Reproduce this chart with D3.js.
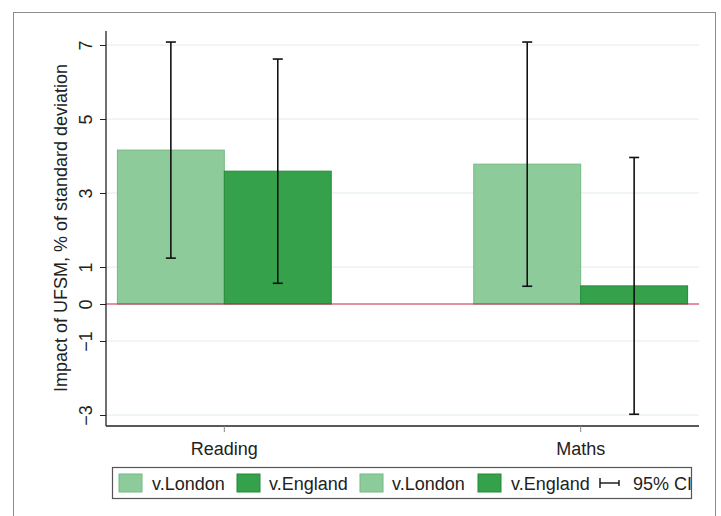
<!DOCTYPE html>
<html>
<head>
<meta charset="utf-8">
<script src="https://cdn.jsdelivr.net/npm/d3@7"></script>
<style>
  html, body { margin: 0; padding: 0; background: #fff; }
  svg { display: block; font-family: "Liberation Sans", Arial, sans-serif; }
</style>
</head>
<body>
<svg id="chart" width="721" height="516"></svg>
<script>
// Outcomes on the x axis
const categories = ["Reading", "Maths"];
// Comparison groups (one bar per group within each outcome)
const groups = ["v.London", "v.England"];
// Estimated effect, % of a standard deviation
const estLondon = [4.16, 3.78];
const estEngland = [3.59, 0.49];
// 95% confidence interval bounds
const lowLondon = [1.24, 0.48];
const highLondon = [7.08, 7.08];
const lowEngland = [0.56, -2.98];
const highEngland = [6.62, 3.96];
// Y tick values
const yTicks = [7, 5, 3, 1, 0, -1, -3];
// Legend entries
const legendLabels = ["v.London", "v.England", "v.London", "v.England", "95% CI"];

const colors = { "v.London": "#8dcb9b", "v.England": "#35a24b" };
const strokes = { "v.London": "#74ba84", "v.England": "#238a39" };

const rows = [];
categories.forEach((c, i) => {
  rows.push({ cat: c, grp: "v.London", v: estLondon[i], lo: lowLondon[i], hi: highLondon[i] });
  rows.push({ cat: c, grp: "v.England", v: estEngland[i], lo: lowEngland[i], hi: highEngland[i] });
});

const svg = d3.select("#chart");

// outer frame
svg.append("rect").attr("x", 13.5).attr("y", 12.5).attr("width", 702).attr("height", 520)
  .attr("fill", "none").attr("stroke", "#8c8c8c").attr("stroke-width", 1);

const plotLeft = 106, plotRight = 699, plotTop = 31, plotBottom = 426;

const y = d3.scaleLinear().domain([-3, 7]).range([415, 45]);
const x0 = d3.scaleBand().domain(categories).range([plotLeft, plotRight]).paddingInner(0.4).paddingOuter(0.032);
const x1 = d3.scaleBand().domain(groups).range([0, x0.bandwidth()]);

// gridlines
svg.append("g").selectAll("line").data(yTicks.filter(t => t !== 0)).join("line")
  .attr("x1", plotLeft).attr("x2", plotRight)
  .attr("y1", d => y(d)).attr("y2", d => y(d))
  .attr("stroke", "#e1eaea").attr("stroke-width", 1);

// bars
svg.append("g").selectAll("rect").data(rows).join("rect")
  .attr("x", d => x0(d.cat) + x1(d.grp))
  .attr("width", x1.bandwidth())
  .attr("y", d => y(Math.max(0, d.v)))
  .attr("height", d => Math.abs(y(d.v) - y(0)))
  .attr("fill", d => colors[d.grp])
  .attr("stroke", d => strokes[d.grp])
  .attr("stroke-width", 1);

// zero reference line
svg.append("line").attr("x1", plotLeft).attr("x2", plotRight)
  .attr("y1", y(0)).attr("y2", y(0))
  .attr("stroke", "#c8204a").attr("stroke-width", 1.2);

// confidence intervals
const ci = svg.append("g").attr("stroke", "#111").attr("stroke-width", 1.6);
rows.forEach(d => {
  const cx = x0(d.cat) + x1(d.grp) + x1.bandwidth() / 2;
  ci.append("line").attr("x1", cx).attr("x2", cx).attr("y1", y(d.hi)).attr("y2", y(d.lo));
  ci.append("line").attr("x1", cx - 5).attr("x2", cx + 5).attr("y1", y(d.hi)).attr("y2", y(d.hi));
  ci.append("line").attr("x1", cx - 5).attr("x2", cx + 5).attr("y1", y(d.lo)).attr("y2", y(d.lo));
});

// y axis
const yAxis = d3.axisLeft(y).tickValues(yTicks).tickSize(6).tickSizeOuter(0).tickFormat(d3.format("d"));
const gy = svg.append("g").attr("transform", `translate(${plotLeft},0)`).call(yAxis);
gy.attr("font-size", null);
gy.select(".domain").attr("d", `M0,${plotTop}V${plotBottom}`).attr("stroke", "#222").attr("stroke-width", 1.3);
gy.selectAll(".tick line").attr("stroke", "#222");
gy.selectAll(".tick text")
  .attr("font-size", 18).attr("fill", "#222")
  .attr("x", null).attr("dy", null)
  .attr("text-anchor", "middle")
  .attr("transform", "translate(-14,0) rotate(-90)");

// y axis title
svg.append("text")
  .attr("transform", `translate(67,228) rotate(-90)`)
  .attr("text-anchor", "middle")
  .attr("font-size", 18).attr("fill", "#222")
  .text("Impact of UFSM, % of standard deviation");

// x axis
const gx = svg.append("g").attr("transform", `translate(0,${plotBottom})`)
  .call(d3.axisBottom(x0).tickSize(6).tickSizeOuter(0));
gx.attr("font-size", null);
gx.select(".domain").attr("d", `M${plotLeft},0H${plotRight}`).attr("stroke", "#222").attr("stroke-width", 1.3);
gx.selectAll(".tick line").attr("stroke", "#888");
gx.selectAll(".tick text").attr("font-size", 18).attr("fill", "#222").attr("y", 16).attr("dy", "0.71em");

// legend
const lg = svg.append("g");
lg.append("rect").attr("x", 112.5).attr("y", 467.5).attr("width", 579).attr("height", 31)
  .attr("fill", "#fff").attr("stroke", "#555").attr("stroke-width", 1.2);
const clip = svg.append("defs").append("clipPath").attr("id", "lgclip");
clip.append("rect").attr("x", 113).attr("y", 468).attr("width", 578).attr("height", 30);
const items = lg.append("g").attr("clip-path", "url(#lgclip)");
const swX = [119, 237, 360, 478];
const txX = [152, 269, 392, 511];
legendLabels.slice(0, 4).forEach((lab, i) => {
  items.append("rect").attr("x", swX[i]).attr("y", 474).attr("width", 23).attr("height", 18)
    .attr("fill", colors[lab]).attr("stroke", strokes[lab]);
  items.append("text").attr("x", txX[i]).attr("y", 490).attr("font-size", 18).attr("fill", "#222").text(lab);
});
// CI key symbol
items.append("line").attr("x1", 600).attr("x2", 619).attr("y1", 483).attr("y2", 483).attr("stroke", "#111").attr("stroke-width", 1.4);
items.append("line").attr("x1", 600).attr("x2", 600).attr("y1", 478).attr("y2", 488).attr("stroke", "#111").attr("stroke-width", 1.4);
items.append("line").attr("x1", 619).attr("x2", 619).attr("y1", 480).attr("y2", 486).attr("stroke", "#111").attr("stroke-width", 1.4);
items.append("text").attr("x", 633).attr("y", 490).attr("font-size", 18).attr("fill", "#222").text(legendLabels[4]);
</script>
</body>
</html>
